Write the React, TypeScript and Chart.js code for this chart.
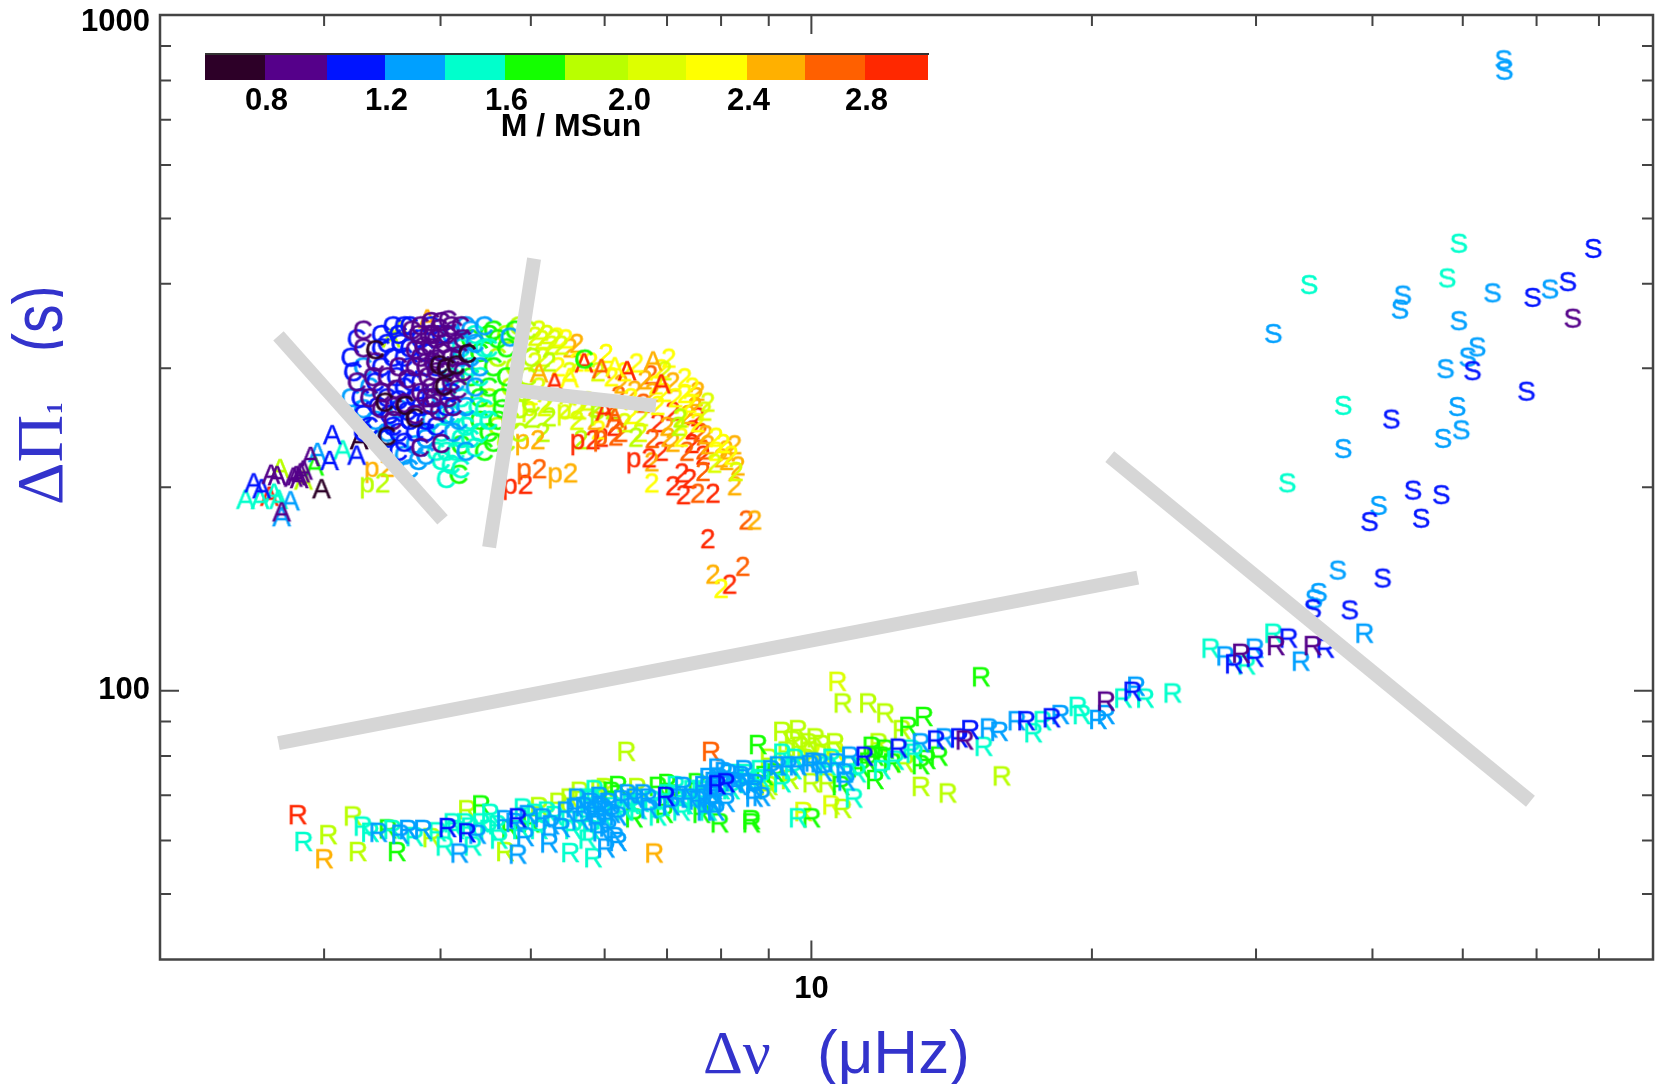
import React, { useEffect, useRef } from "react";
import { Chart, registerables } from "chart.js";

Chart.register(...registerables);

// [Δν µHz, ΔΠ1 s, mass]
const sPoints = [
  [55.3,854,1.3],[55.4,824,1.3],[49.5,457,1.5],[69.0,449,1.1],[48.1,406,1.5],[34.2,397,1.5],[64.8,401,1.1],[62.0,391,1.3],
  [53.8,386,1.3],[59.4,380,1.1],[43.1,383,1.3],[42.8,365,1.3],[65.6,354,0.9],[49.5,351,1.3],[31.3,336,1.3],[51.8,321,1.3],
  [50.6,310,1.3],[47.9,298,1.3],[51.2,296,1.1],[58.5,276,1.1],[37.2,263,1.5],[49.3,262,1.3],[41.9,251,1.1],[49.8,242,1.3],
  [47.6,235,1.3],[37.2,227,1.3],[32.4,202,1.5],[44.2,197,1.1],[47.4,194,1.1],[40.6,187,1.3],[39.7,177,1.1],[45.1,179,1.1],
  [36.7,150,1.3],[41.0,146,1.1],[35.0,139,1.3],[34.6,136,1.3],[34.5,131.5,1.1],[37.8,131,1.1],
];

const rPoints = [
  [39.2,121,1.3],[26.8,115,1.5],[27.8,112,1.3],[28.4,109,1.1],[28.9,113,0.9],[29.9,115,1.3],[29.9,111.5,1.1],[29.3,108.6,1.5],
  [31.3,121,1.5],[31.5,116,0.9],[32.5,119,1.1],[33.5,110,1.3],[34.5,116,0.9],[35.6,115,1.1],
  [2.81,65.2,2.9],[2.85,59.5,1.5],[3.03,60.9,1.9],[3.0,56.1,2.5],[3.22,64.9,1.9],[3.26,57.5,1.9],[3.30,62.7,1.5],[3.43,61.4,1.3],
  [3.36,61.4,1.5],[3.51,62.1,1.7],[3.59,57.5,1.7],[3.69,62,1.3],[3.83,62,1.3],[3.91,60.3,1.9],[4.07,62.4,1.1],[4.27,61.3,1.1],
  [4.04,58.6,1.5],[4.19,57.2,1.3],[4.33,58.6,1.5],[4.27,66.3,1.9],[4.42,67.4,1.7],[4.52,65.5,1.5],[4.12,63.4,1.5],[4.25,63.4,1.5],
  [4.42,63.4,1.5],[4.69,64.1,1.3],[4.84,64.5,1.1],[4.96,65.2,1.3],[4.90,66.7,1.5],[4.69,57.5,1.9],[4.84,57,1.3],[4.93,60.5,1.3],
  [5.15,64.5,1.3],[5.0,63.4,1.7],[5.23,59.2,1.3],[5.39,62.4,1.3],[5.51,57.3,1.5],[5.83,56.3,1.5],[6.02,58.2,1.3],[6.2,59.5,1.3],
  [5.64,70.6,1.9],[5.92,71,1.9],[6.1,70.6,1.7],[6.33,80.9,1.9],[7.8,80.9,2.7],[6.78,57.2,2.5],[5.57,66.7,1.3],[5.8,68.6,1.5],
  [5.92,69.4,1.3],[6.26,68.6,1.3],[6.0,66.3,1.3],[5.88,64.9,1.3],[5.76,64.9,1.5],[6.0,64.1,1.5],[6.2,64.9,1.3],[6.46,69,1.3],
  [6.68,69,1.3],[6.98,69.4,1.1],[6.84,71.8,1.7],[7.28,71.8,1.3],[7.53,72.7,1.7],[7.92,72.2,1.1],[8.1,72.7,1.1],[7.92,76.4,1.3],
  [8.47,76,1.3],[7.97,63.4,1.7],[8.62,63.4,1.7],[7.07,67.2,1.3],[7.5,67.4,1.5],[7.82,67.9,1.3],[6.84,64.9,1.5],[6.52,66.3,1.5],
  [7.62,65.5,1.7],[5.8,68,1.3],[5.85,66,1.3],[5.95,67,1.3],[6.05,68,1.3],[6.1,65.5,1.3],[5.9,63.5,1.3],[5.95,61.5,1.3],
  [6.05,62.5,1.3],[5.8,62,1.5],[6.15,60.5,1.3],[7.65,72,1.3],[7.75,74,1.3],[7.85,71,1.3],[7.95,74,1.3],[8.05,75.5,1.3],
  [8.15,75,1.3],[7.9,69.5,1.3],[8.0,71,1.5],[7.7,69,1.3],[8.25,73,1.3],[8.4,74.5,1.3],[8.55,72.5,1.5],[8.7,72.5,1.3],
  [7.6,71,1.5],[7.8,68,1.3],[7.75,66,1.5],[8.1,68,1.3],
  [10.66,102.7,2.1],[10.8,95.4,1.9],[11.5,95.4,1.9],[12.0,92.2,1.9],[13.2,91.1,1.7],[12.7,88.1,1.7],[12.5,87.1,1.9],[15.2,104.3,1.7],
  [9.3,86.6,1.9],[9.67,87.1,1.9],[8.76,82.8,1.7],[10.1,84.7,1.9],[10.6,83.3,1.9],[9.3,80.4,1.5],[9.72,82.3,1.9],[11.0,79.6,1.3],
  [11.4,79.6,1.1],[11.8,83.3,1.9],[11.7,79.6,1.7],[12.4,81.8,1.1],[11.9,79.6,1.7],[12.9,80.4,1.5],[13.3,78.7,1.7],[13.6,84.1,1.1],
  [13.9,84.7,1.3],[14.4,84.7,1.1],[14.8,87.1,1.1],[14.6,84.1,0.9],[15.5,87.6,1.3],[15.9,86.6,1.3],[15.3,82.3,1.5],[16.6,89.8,1.3],
  [17.0,89.8,1.1],[17.3,86.2,1.5],[17.7,89.8,1.5],[18.1,90.7,1.1],[18.5,91.7,1.3],[19.3,94.3,1.5],[19.5,91.7,1.5],[20.3,90.2,1.3],
  [20.7,96,0.9],[20.7,91.7,1.3],[21.6,97,1.5],[22.1,99.3,1.1],[22.3,101,1.3],[22.8,97,1.5],[24.4,98.7,1.5],[16.0,74.4,1.9],
  [13.1,71.8,1.9],[14.0,70.2,1.9],[11.7,73.5,1.7],[11.1,69,1.5],[10.8,66.6,1.9],[10.5,67.4,2.1],[9.8,65.9,2.1],[9.67,64.5,1.5],
  [10.0,64.5,1.7],[8.62,64.1,1.7],[10.85,75.2,1.3],[10.9,73.1,1.3],[10.66,77.8,1.3],[11.2,75.2,1.5],[10,72.7,1.9],[10.4,72.7,1.9],
  [9.67,77,1.3],[9.96,77.3,1.3],[10.2,77.8,1.3],[10.4,77,1.5],[9.48,73.5,1.9],[9.3,72.7,1.5],[9.14,75.2,1.7],[8.84,73.5,1.5],
  [8.68,71,1.3],[8.52,72.7,1.3],[8.84,69.4,1.3],[8.68,69.2,1.3],[9.92,83.3,1.9],[10.25,82.8,1.9],[12.2,77.8,1.7],[12.6,77.8,1.9],
  [13.1,77.3,1.7],[13.7,79.6,1.7],[12.0,81.5,1.7],[11.6,82.3,1.7],[12.8,81.5,1.5],[13.1,83.3,1.3],
  [3.55,62,1.5],[3.62,61,1.3],[3.75,60.5,1.5],[3.97,61.5,1.5],[4.15,62,1.5],[4.3,62.5,1.5],[4.38,61,1.3],[4.5,62,1.5],
  [4.6,63,1.5],[4.62,60,1.5],[4.75,62,1.7],[4.8,63.5,1.3],[4.88,62,1.5],[5.05,65.5,1.5],[5.1,62,1.5],[5.2,66,1.5],
  [5.25,63,1.3],[5.3,65,1.5],[5.45,66,1.3],[5.5,64,1.5],[5.55,62,1.5],[5.6,69,1.3],[5.65,64,1.3],[5.7,67,1.3],
  [5.75,60,1.5],[5.75,69,1.5],[5.85,71,1.5],[6.15,67,1.5],[6.3,66,1.5],[6.35,70,1.3],[6.4,67.5,1.5],[6.45,64.5,1.7],
  [6.55,68,1.5],[6.6,70,1.3],[6.7,66.5,1.3],[6.75,68.5,1.5],[6.9,67,1.5],[6.95,65.5,1.7],[7.0,70,1.5],[7.1,70,1.7],
  [7.2,69,1.3],[7.25,66,1.5],[7.3,67.5,1.5],[7.4,69,1.3],[7.45,71,1.5],[7.55,68.5,1.3],[7.65,69.5,1.5],[7.7,66,1.3],
  [7.8,70,1.3],[7.9,66,1.3],[7.85,73,1.3],[8.0,73,1.5],[8.2,71,1.5],[8.35,72,1.3],[8.3,75,1.5],[8.5,75,1.5],
  [8.8,76,1.5],[8.9,74.5,1.7],[9.0,72,1.9],[9.05,76,1.3],[9.2,77,1.3],[9.45,77,1.3],[9.55,76,1.5],[9.6,79,1.5],
  [9.85,79,1.9],[10.05,78,1.3],[10.3,75.5,1.3],[10.5,79,1.5],[10.75,72,1.7],[11,77,1.5],[11.3,76.5,1.7],[11.5,78,1.7],
  [11.9,76,1.5],[12.3,78.5,1.5],[9.0,79,1.9],[8.95,71,1.9],[9.4,81,1.9],[9.55,84,1.9],[10.0,81,2.1],[10.3,80,2.1],
  [10.6,81,2.1],[6.0,71.5,1.9],[5.5,69,1.9],[5.1,67,1.9],[5.35,68,1.9],[6.2,72,1.7],[6.5,71.5,1.9],[7.0,72.5,1.7],[7.15,72,1.5],
];

const cPoints = [
  [4.9,325,1.9],[4.7,335,1.9],[4.8,300,1.9],[4.6,310,1.9],[4.5,335,1.7],[4.75,280,1.9],[4.5,270,1.9],[4.4,250,1.7],[4.85,260,1.9],[4.6,245,1.9],
  [4.6,330,1.7],[4.55,300,1.7],[4.4,315,1.7],[4.5,280,1.7],[4.3,330,1.7],[4.65,260,1.7],[4.3,290,1.7],[4.4,270,1.7],[4.2,230,1.7],[4.18,208,1.7],[4.5,240,1.7],
  [5.7,308,1.7],
  [4.85,345,1.9],[4.95,340,1.9],[5.0,310,1.9],[4.95,290,1.9],[4.9,275,1.9],[5.0,265,1.9],[4.75,250,1.9],[4.7,232,1.9],[4.85,240,1.9],
  [4.55,340,1.7],[4.7,320,1.7],[4.7,290,1.7],[4.65,270,1.7],[4.6,250,1.7],[4.55,232,1.7],[4.45,225,1.7],[4.8,340,1.7],
  [4.35,335,1.5],[4.2,320,1.5],[4.3,300,1.5],[4.1,290,1.5],[4.2,270,1.5],[4.3,250,1.5],[4.1,255,1.5],[4.0,240,1.5],[4.2,235,1.5],[3.95,225,1.5],[4.1,215,1.5],[4.2,212,1.5],[4.4,240,1.5],[4.05,225,1.5],
  [4.45,320,1.5],[4.4,290,1.5],[4.45,260,1.5],[4.3,235,1.5],[4.35,228,1.5],[4.15,225,1.5],[4.25,245,1.5],[4.38,262,1.5],[4.5,250,1.5],[4.5,320,1.5],[4.05,205,1.5],[4.0,218,1.5],
  [4.74,332,1.3],[4.3,340,1.3],[4.1,335,1.3],[4.2,310,1.3],[4.05,300,1.3],[4.15,285,1.3],[4.0,270,1.3],[4.05,255,1.3],[3.9,250,1.3],[3.85,235,1.3],[3.75,230,1.3],[3.6,260,1.3],[3.4,250,1.3],[3.3,300,1.3],[3.35,280,1.3],[3.5,240,1.3],[3.3,260,1.3],[3.85,222,1.3],
  [4.25,345,1.3],[4.35,325,1.3],[4.3,310,1.3],[4.35,280,1.3],[4.25,262,1.3],[4.18,250,1.3],[4.12,240,1.3],[4.25,225,1.3],[3.45,235,1.3],[3.65,222,1.3],[3.7,212,1.3],[3.78,218,1.3],[4.4,300,1.3],[4.45,345,1.3],[3.2,270,1.3],
  [4.0,335,1.1],[3.9,345,1.1],[3.8,330,1.1],[3.7,320,1.1],[3.6,335,1.1],[3.85,315,1.1],[3.95,300,1.1],[3.7,300,1.1],[3.55,310,1.1],[3.45,320,1.1],[3.4,285,1.1],[3.5,270,1.1],[3.65,280,1.1],[3.75,270,1.1],[3.9,270,1.1],[3.8,285,1.1],[3.7,250,1.1],[3.85,250,1.1],[3.6,240,1.1],[3.25,330,1.1],[3.2,310,1.1],[3.5,235,1.1],[3.95,245,1.1],[3.3,255,1.1],
  [3.65,345,1.1],[3.55,345,1.1],[3.45,335,1.1],[3.7,345,1.1],[3.62,325,1.1],[3.5,325,1.1],[3.65,310,1.1],[3.58,290,1.1],[3.72,285,1.1],[3.45,300,1.1],[3.8,262,1.1],[3.68,258,1.1],[3.6,268,1.1],[3.52,255,1.1],[3.42,262,1.1],[3.75,240,1.1],[3.65,232,1.1],[3.55,245,1.1],[3.85,240,1.1],[4.05,262,1.1],[4.1,275,1.1],[3.28,270,1.1],[3.22,295,1.1],[3.35,245,1.1],[3.6,225,1.1],[3.3,240,1.1],
  [4.1,345,0.9],[4.0,350,0.9],[3.9,350,0.9],[3.8,345,0.9],[4.05,335,0.9],[3.95,330,0.9],[4.15,325,0.9],[4.1,310,0.9],[4.0,315,0.9],[3.9,320,0.9],[3.85,300,0.9],[3.95,295,0.9],[4.05,295,0.9],[4.15,300,0.9],[4.0,280,0.9],[3.9,280,0.9],[3.8,310,0.9],[3.6,300,0.9],[3.5,290,0.9],[3.4,305,0.9],[3.3,320,0.9],[3.25,285,0.9],[3.35,270,0.9],[3.45,260,0.9],[3.65,265,0.9],[3.75,255,0.9],[3.3,340,0.9],[3.55,250,0.9],[3.9,263,0.9],[3.85,270,0.9],[3.75,300,0.9],[3.8,228,0.9],[4.0,231,0.9],
  [3.92,335,0.9],[3.98,342,0.9],[4.07,352,0.9],[4.13,340,0.9],[4.2,345,0.9],[4.22,330,0.9],[4.18,312,0.9],[4.22,295,0.9],[4.1,285,0.9],[4.17,278,0.9],[3.95,308,0.9],[4.03,325,0.9],[3.88,335,0.9],[3.83,322,0.9],[3.78,335,0.9],[3.72,340,0.9],[3.75,318,0.9],[3.93,270,0.9],[4.07,270,0.9],[3.98,258,0.9],[3.87,290,0.9],[3.92,305,0.9],[4.12,262,0.9],[3.8,275,0.9],[3.68,288,0.9],[3.58,278,0.9],[3.45,275,0.9],[3.38,290,0.9],[3.56,262,0.9],
  [3.40,318,0.7],[3.48,266,0.7],[3.66,263,0.7],[3.75,252,0.7],[3.50,237,0.7],[3.98,302,0.7],[4.05,299,0.7],[4.15,302,0.7],[4.27,314,0.7],[4.03,281,0.7],
];

const aPoints = [
  [3.87,353,2.5],[3.54,331,1.9],[3.62,340,2.1],[3.06,238,1.1],[3.27,234,0.7],[3.25,222,1.1],[3.14,226,1.5],[3.04,218,1.1],[2.95,224,1.3],[2.90,221,0.9],
  [2.93,214,1.7],[2.98,198,0.7],[2.83,209,0.9],[2.80,207,0.9],[2.78,206,0.9],[2.85,211,0.9],[2.82,205,0.9],[2.69,212,1.9],[2.67,207,0.9],[2.63,208,0.9],
  [2.52,202,1.1],[2.57,198,1.1],[2.47,191,1.5],[2.56,191,1.5],[2.62,193,2.9],[2.68,191,1.5],[2.76,190,1.3],[2.70,183,0.9],[2.70,180,1.3],[2.65,195,1.5],[2.85,204,1.9],
  [5.7,304,2.9],[6.34,296,2.9],[6.76,306,2.5],[5.1,294,2.5],[5.3,284,2.9],[5.5,289,2.3],[6.0,258,2.9],[6.15,252,2.7],[6.9,283,2.9],[5.95,298,2.7],[6.15,300,2.3],
];

const twoPoints = [
  [6.02,314,2.3],[6.49,304,2.3],[6.96,296,2.1],[7.31,289,2.3],[7.55,276,2.5],[7.74,266,2.1],[7.31,274,2.3],[7.52,271,2.5],[7.55,253,2.9],[7.68,258,2.1],
  [7.26,252,2.3],[7.37,255,2.5],[7.46,242,2.9],[7.25,236,2.3],[7.02,236,2.5],[6.84,248,2.9],[7.44,231,2.9],[7.65,226,2.7],[7.74,230,2.5],[7.90,236,2.3],
  [8.27,230,2.5],[8.04,231,2.3],[8.11,218,2.5],[7.87,216,2.1],[8.34,214,2.5],[8.27,200,2.5],[7.84,195,2.9],[7.55,195,2.7],[7.29,194,2.9],[7.26,209,2.9],
  [6.74,217,2.5],[6.74,202,2.3],[8.51,178,2.7],[8.69,178,2.5],[7.74,167,2.9],[8.44,152,2.7],[7.84,148,2.5],[8.17,143,2.9],[8.0,141,2.3],[7.65,222,2.9],
  [5.66,234,1.9],[5.95,236,2.9],[6.48,236,1.9],[6.24,240,2.7],[6.14,245,2.9],[5.91,242,2.3],[6.84,263,2.3],[7.23,252,1.9],[5.45,260,2.1],[5.61,260,2.1],
  [5.88,261,1.9],[6.57,253,2.1],[6.4,255,2.3],[5.05,333,2.1],[5.14,329,2.1],[5.26,323,2.1],[5.39,323,2.1],[5.51,320,2.5],[5.23,305,1.9],[5.0,252,1.9],
  [5.23,253,1.9],[5.75,267,2.1],[6.21,272,2.7],[6.81,282,2.3],[6.46,277,2.5],[6.63,287,2.5],[6.90,298,2.3],[6.72,292,2.7],[7.03,309,2.3],[7.0,245,2.5],
  [7.1,258,2.9],[7.5,262,2.5],[7.6,240,2.7],[7.35,225,2.7],[7.9,225,2.3],[8.1,226,2.5],[5.3,330,2.1],[5.6,305,2.3],[6.3,295,2.3],[5.05,305,2.1],
  [5.1,340,2.1],[5.2,335,2.1],[5.33,332,2.3],[5.45,330,2.3],[5.6,325,2.5],[5.15,310,2.1],[5.35,300,2.3],[5.5,295,2.1],[5.8,305,2.3],[5.9,295,2.1],
  [6.1,290,2.3],[6.25,283,2.5],[6.4,270,2.3],[6.6,265,2.7],[6.75,275,2.5],[6.95,275,2.3],[7.1,285,2.5],[7.15,270,2.3],[7.45,280,2.3],[7.4,265,2.3],
  [5.6,250,2.1],[5.85,250,2.5],[6.1,262,2.7],[6.3,248,2.1],[6.55,240,2.1],[6.75,235,2.7],[6.9,225,2.9],[7.1,232,2.5],[7.2,245,1.9],[7.55,248,2.3],
  [7.7,238,2.5],[8.0,220,2.5],[8.2,222,2.3],[8.3,210,2.1],[7.65,210,2.7],[7.4,205,2.9],[7.1,200,2.9],[5.1,280,2.1],[5.2,265,1.9],[5.0,272,2.3],[5.15,240,1.9],
];

const p2Points = [
  [3.40,202,1.9],[3.44,213,2.5],[4.99,234,2.5],[5.01,212,2.7],[5.41,209,2.5],[4.84,201,2.9],[6.57,220,2.9],[6.05,237,2.7],[5.07,262,2.1],[5.53,259,2.1],[6.0,259,1.9],[5.72,234,2.9],
];

const guideA = [{ x: 2.68, y: 335 }, { x: 4.02, y: 179 }];
const guideB = [{ x: 5.04, y: 436 }, { x: 4.51, y: 163 }];
const guideC = [{ x: 4.72, y: 279 }, { x: 6.81, y: 264 }];
const guideD = [{ x: 2.68, y: 83.6 }, { x: 22.4, y: 147 }];
const guideE = [{ x: 20.9, y: 222 }, { x: 59.1, y: 68.6 }];

const xMinorTicks = [3, 4, 5, 6, 7, 8, 9, 20, 30, 40, 50, 60, 70];
const xMajorTicks = [10];
const yMinorTicks = [50, 60, 70, 80, 90, 200, 300, 400, 500, 600, 700, 800, 900];
const yMajorTicks = [100];
const xTickLabels = ["10"];
const yTickLabels = ["100", "1000"];

const barColors = ["#2d0028", "#55008a", "#0014ff", "#00a0ff", "#00ffcc", "#14ff00", "#b9ff00", "#ddff00", "#ffff00", "#ffb000", "#ff6000", "#ff2800"];
const barLabels = ["0.8", "1.2", "1.6", "2.0", "2.4", "2.8"];
const barEdges = [205, 265, 327, 385, 445, 505, 565, 628, 686, 747, 805, 865, 928];

const SANS = '"Liberation Sans"';
const SERIF = '"Liberation Serif"';
const TITLE_BLUE = "#3333cc";
const AXIS = "#444444";

const colorFor = (m: number) => barColors[Math.min(11, Math.max(0, Math.floor((m - 0.6) / 0.2 + 1e-6)))];

const sprites = new Map<string, HTMLCanvasElement>();
function sprite(text: string, color: string) {
  const key = text + color;
  let c = sprites.get(key);
  if (!c) {
    c = document.createElement("canvas");
    c.width = 70;
    c.height = 44;
    const g = c.getContext("2d")!;
    g.font = `28px ${SANS}`;
    g.textAlign = "center";
    g.textBaseline = "middle";
    g.fillStyle = color;
    g.strokeStyle = color;
    g.lineWidth = 0.4;
    g.fillText(text, 35, 22);
    g.strokeText(text, 35, 22);
    sprites.set(key, c);
  }
  return c;
}

function letterSet(label: string, pts: number[][], order: number) {
  const sorted = [...pts].sort((a, b) => b[2] - a[2]);
  return {
    label,
    order,
    data: sorted.map((p) => ({ x: p[0], y: p[1] })),
    showLine: false,
    pointRadius: 6,
    pointStyle: sorted.map((p) => sprite(label, colorFor(p[2]))),
  };
}

function guide(label: string, data: { x: number; y: number }[]) {
  return {
    label,
    order: 0,
    data,
    showLine: true,
    pointRadius: 0,
    borderColor: "#d6d6d6",
    backgroundColor: "#d6d6d6",
    borderWidth: 14,
    borderCapStyle: "butt",
  };
}

const decorations = {
  id: "decorations",
  afterLayout(chart: any) {
    const right = 1653;
    const a = chart.chartArea;
    const xs = chart.scales.x;
    a.right = right;
    a.width = right - a.left;
    xs.left = a.left;
    xs.right = right;
    xs.width = right - a.left;
    xs.configure();
  },
  afterDraw(chart: any) {
    const { ctx, chartArea: a, scales } = chart;
    const { x, y } = scales;
    ctx.save();
    // ticks on all four sides
    ctx.strokeStyle = AXIS;
    ctx.lineWidth = 2;
    const tickX = (v: number, len: number) => {
      const p = x.getPixelForValue(v);
      ctx.beginPath();
      ctx.moveTo(p, a.bottom);
      ctx.lineTo(p, a.bottom - len);
      ctx.moveTo(p, a.top);
      ctx.lineTo(p, a.top + len);
      ctx.stroke();
    };
    const tickY = (v: number, len: number) => {
      const p = y.getPixelForValue(v);
      ctx.beginPath();
      ctx.moveTo(a.left, p);
      ctx.lineTo(a.left + len, p);
      ctx.moveTo(a.right, p);
      ctx.lineTo(a.right - len, p);
      ctx.stroke();
    };
    xMinorTicks.forEach((v) => tickX(v, 11));
    xMajorTicks.forEach((v) => tickX(v, 19));
    yMinorTicks.forEach((v) => tickY(v, 11));
    yMajorTicks.forEach((v) => tickY(v, 19));
    ctx.lineWidth = 2.5;
    ctx.strokeRect(a.left, a.top, a.right - a.left, a.bottom - a.top);

    // tick labels
    ctx.fillStyle = "#000";
    ctx.font = `bold 31px ${SANS}`;
    ctx.textBaseline = "middle";
    ctx.textAlign = "right";
    yTickLabels.forEach((t) => {
      const p = y.getPixelForValue(Number(t));
      ctx.fillText(t, 150, Math.max(p, 22));
    });
    ctx.textAlign = "center";
    xTickLabels.forEach((t) => ctx.fillText(t, x.getPixelForValue(Number(t)), 989.5));

    // colour bar
    barColors.forEach((c, i) => {
      ctx.fillStyle = c;
      ctx.fillRect(barEdges[i], 54, barEdges[i + 1] - barEdges[i], 26);
    });
    ctx.fillStyle = "#333";
    ctx.fillRect(205, 53, 724, 2);
    ctx.fillStyle = "#000";
    ctx.font = `bold 31px ${SANS}`;
    ctx.textBaseline = "middle";
    barLabels.forEach((t, i) => ctx.fillText(t, barEdges[2 * i + 1] + 1.5, 101.5));
    ctx.font = `bold 32px ${SANS}`;
    ctx.fillText("M / MSun", 571, 127);

    // axis titles
    ctx.fillStyle = TITLE_BLUE;
    ctx.textBaseline = "alphabetic";
    ctx.textAlign = "left";
    ctx.font = `62px ${SERIF}`;
    ctx.fillText("Δν", 703, 1073);
    ctx.font = `62px ${SANS}`;
    ctx.fillText("(μHz)", 817, 1073);

    ctx.save();
    ctx.beginPath();
    ctx.rect(0, 250, 63, 300);
    ctx.clip();
    ctx.translate(62, 0);
    ctx.rotate(-Math.PI / 2);
    ctx.font = `66px ${SERIF}`;
    ctx.fillText("ΔΠ", -505, 0);
    ctx.font = `bold 23px ${SERIF}`;
    ctx.fillText("1", -414, 0);
    ctx.scale(1, 1.25);
    ctx.font = `57px ${SANS}`;
    ctx.fillText("(s)", -352, 0);
    ctx.restore();
    ctx.restore();
  },
};

export default function App() {
  const ref = useRef<HTMLCanvasElement>(null);
  useEffect(() => {
    document.body.style.margin = "0";
    const chart = new Chart(ref.current!, {
      type: "scatter",
      data: {
        datasets: [
          guide("guide a", guideA),
          guide("guide b", guideB),
          guide("guide c", guideC),
          guide("guide d", guideD),
          guide("guide e", guideE),
          letterSet("C", cPoints, 1),
          letterSet("A", aPoints, 2),
          letterSet("p2", p2Points, 3),
          letterSet("2", twoPoints, 4),
          letterSet("R", rPoints, 5),
          letterSet("S", sPoints, 6),
        ] as any,
      },
      options: {
        responsive: false,
        animation: false,
        layout: { padding: { left: 160, right: 2, top: 15, bottom: 124.5 } },
        plugins: { legend: { display: false }, tooltip: { enabled: false } },
        scales: {
          x: {
            type: "logarithmic",
            min: 2,
            max: 80,
            grid: { display: false },
            border: { display: false },
            ticks: { display: false },
            afterFit: (s: any) => { s.height = 0; },
          },
          y: {
            type: "logarithmic",
            min: 40,
            max: 1000,
            grid: { display: false },
            border: { display: false },
            ticks: { display: false },
            afterFit: (s: any) => { s.width = 0; },
          },
        },
      },
      plugins: [decorations],
    } as any);
    return () => chart.destroy();
  }, []);
  return <canvas ref={ref} width={1655} height={1084} style={{ display: "block" }} />;
}
